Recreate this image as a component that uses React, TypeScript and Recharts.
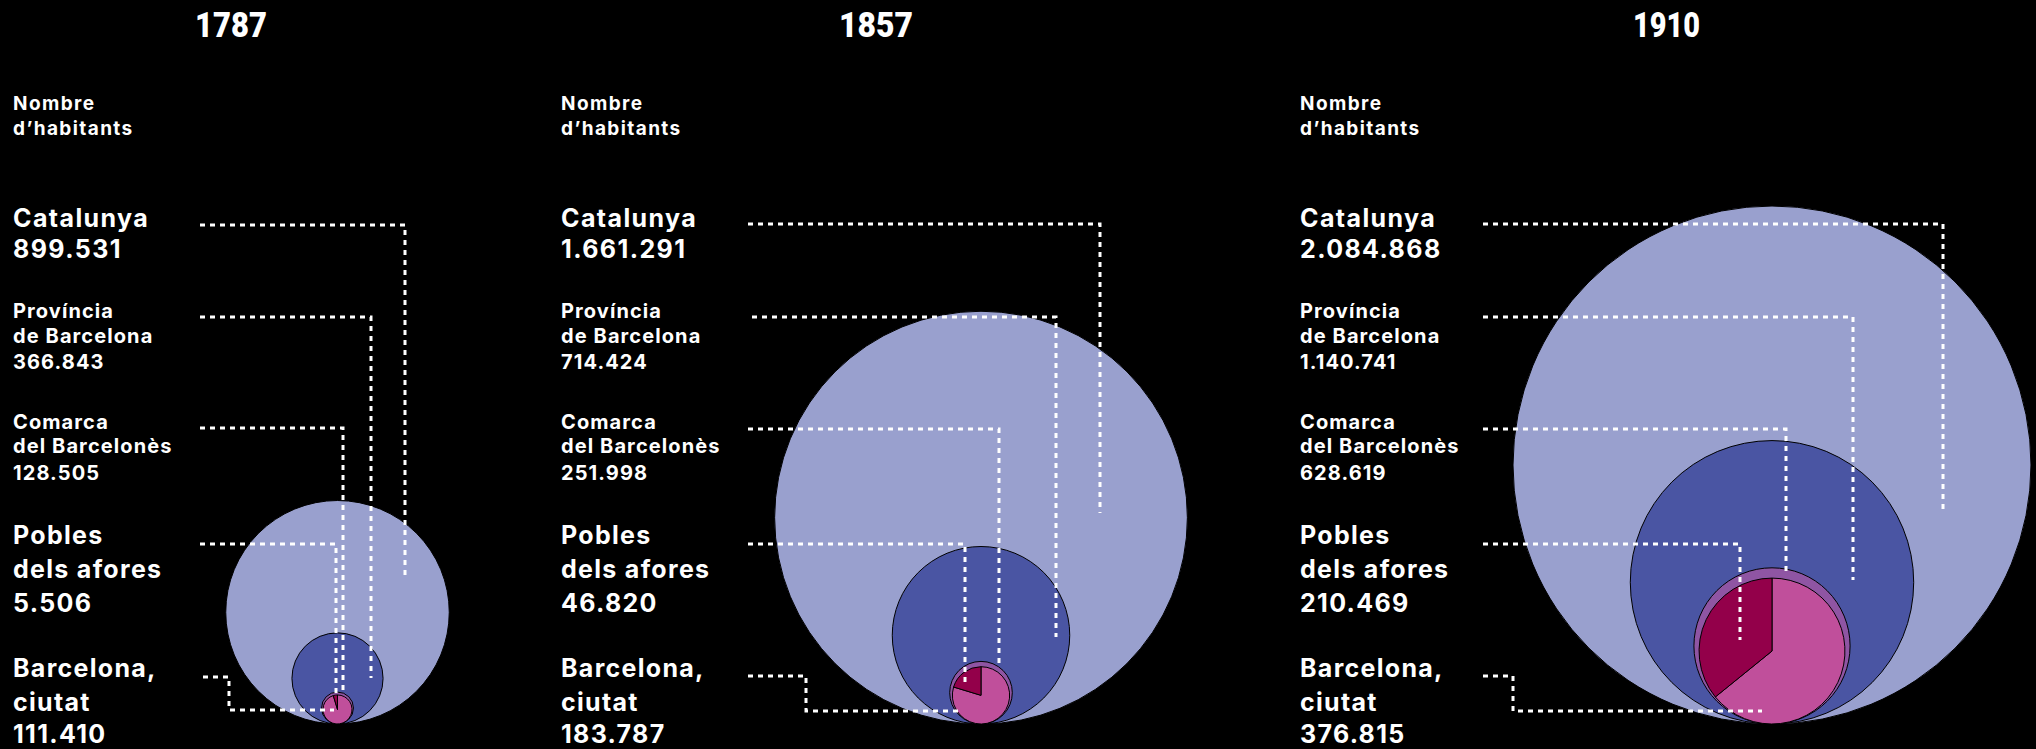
import React from 'react';
import { ScatterChart, Scatter, XAxis, YAxis, Sector } from 'recharts';

// ---------- DATA ----------
const years = ['1787', '1857', '1910'];
const catalunya = [899531, 1661291, 2084868];
const provincia = [366843, 714424, 1140741];
const comarca = [128505, 251998, 628619];
const pobles = [5506, 46820, 210469];
const barcelona = [111410, 183787, 376815];
const headerLines = ['Nombre', "d\u2019habitants"];
const levelLabels = [
  ['Catalunya'],
  ['Prov\u00edncia', 'de Barcelona'],
  ['Comarca', 'del Barcelon\u00e8s'],
  ['Pobles', 'dels afores'],
  ['Barcelona,', 'ciutat'],
];

// ---------- LAYOUT ----------
const W = 2036;
const H = 749;
const PLOT_BOTTOM = 724;
const PEOPLE_PER_PX = 8050;
const Y_MAX = PLOT_BOTTOM * PEOPLE_PER_PX;
const panelCenterX = [337.5, 981, 1772];
const panelTextX = [13, 561, 1300];
const titleLeft = [195, 839, 1633];
const titleWidth = [72, 74, 67];
const LABEL_LAYOUT = [
  { size: 25, spacing: 1.4, baselines: [227, 258] },
  { size: 20, spacing: 1.1, baselines: [318, 343, 369] },
  { size: 20, spacing: 1.1, baselines: [429, 453, 480] },
  { size: 25, spacing: 1.3, baselines: [544, 578, 612] },
  { size: 25, spacing: 1.3, baselines: [677, 711, 743] },
];
const LEADERS: number[][][][] = [
  [
    [[200, 225], [405, 225], [405, 580]],
    [[200, 317], [371, 317], [371, 678]],
    [[200, 428], [343, 428], [343, 693]],
    [[200, 544], [336, 544], [336, 697]],
    [[203, 677], [229, 677], [229, 710], [334, 710]],
  ],
  [
    [[748, 224], [1100, 224], [1100, 513]],
    [[752, 317], [1056, 317], [1056, 637]],
    [[748, 429], [999, 429], [999, 668]],
    [[748, 544], [965, 544], [965, 683]],
    [[748, 676], [806, 676], [806, 711], [962, 711]],
  ],
  [
    [[1483, 224], [1943, 224], [1943, 513]],
    [[1483, 317], [1853, 317], [1853, 580]],
    [[1483, 429], [1786, 429], [1786, 572]],
    [[1483, 544], [1740, 544], [1740, 640]],
    [[1483, 676], [1513, 676], [1513, 711], [1762, 711]],
  ],
];

const COLORS: Record<string, string> = {
  cat: '#99A0CE',
  prov: '#4A55A3',
  com: '#8F55A3',
};
const PINK = '#C04F9B';
const DARK = '#93004A';
const FONT = "Inter, 'Open Sans', sans-serif";

const fmt = (n: number) => String(n).replace(/\B(?=(\d{3})+(?!\d))/g, '.');

// circles: centre y (in people) = value, so each circle is tangent to the baseline
const points: any[] = [];
const kinds: [string, number[]][] = [
  ['cat', catalunya],
  ['prov', provincia],
  ['com', comarca],
];
kinds.forEach(([kind, arr]) => {
  arr.forEach((v, i) => points.push({ x: panelCenterX[i], y: v, kind }));
});
years.forEach((_, i) =>
  points.push({
    x: panelCenterX[i],
    y: barcelona[i] + pobles[i],
    kind: 'pie',
    bcn: barcelona[i],
    pob: pobles[i],
  })
);

const CircleShape = (props: any) => {
  const { cx, cy, payload } = props;
  const r = PLOT_BOTTOM - cy;
  if (payload.kind === 'pie') {
    const a = (360 * payload.pob) / (payload.pob + payload.bcn);
    return (
      <g>
        <Sector cx={cx} cy={cy} innerRadius={0} outerRadius={r} startAngle={90 + a} endAngle={450} fill={PINK} stroke="#000" strokeWidth={1} />
        <Sector cx={cx} cy={cy} innerRadius={0} outerRadius={r} startAngle={90} endAngle={90 + a} fill={DARK} stroke="#000" strokeWidth={1} />
      </g>
    );
  }
  return <circle cx={cx} cy={cy} r={r} fill={COLORS[payload.kind]} stroke="#000" strokeWidth={1} />;
};

export default function App() {
  const valuesByLevel = [catalunya, provincia, comarca, pobles, barcelona];
  return (
    <div style={{ position: 'relative', width: W, height: H, background: '#000' }}>
      <style>{`body{margin:0;background:#000;}`}</style>
      <ScatterChart width={W} height={H} margin={{ top: 0, right: 0, bottom: H - PLOT_BOTTOM, left: 0 }}>
        <XAxis type="number" dataKey="x" domain={[0, W]} allowDataOverflow hide />
        <YAxis type="number" dataKey="y" domain={[0, Y_MAX]} allowDataOverflow hide />
        <Scatter data={points} shape={CircleShape} isAnimationActive={false} />
      </ScatterChart>
      <svg width={W} height={H} style={{ position: 'absolute', left: 0, top: 0, pointerEvents: 'none' }}>
        {years.map((yr, p) => (
          <g key={yr}>
            <text
              x={titleLeft[p]}
              y={37}
              fontFamily="Roboto, sans-serif"
              fontWeight={900}
              fontSize={35}
              fill="#fff"
              textLength={titleWidth[p]}
              lengthAdjust="spacingAndGlyphs"
            >
              {yr}
            </text>
            {headerLines.map((t, j) => (
              <text key={j} x={panelTextX[p]} y={110 + j * 25} fontFamily={FONT} fontWeight={700} fontSize={19} fill="#fff" letterSpacing={1.4}>
                {t}
              </text>
            ))}
            {levelLabels.map((lines, l) => {
              const lay = LABEL_LAYOUT[l];
              const all = [...lines, fmt(valuesByLevel[l][p])];
              return all.map((t, j) => (
                <text
                  key={`${l}-${j}`}
                  x={panelTextX[p]}
                  y={lay.baselines[j]}
                  fontFamily={FONT}
                  fontWeight={700}
                  fontSize={lay.size}
                  fill="#fff"
                  letterSpacing={lay.spacing}
                >
                  {t}
                </text>
              ));
            })}
            {LEADERS[p].map((pts, l) => (
              <polyline
                key={l}
                points={pts.map((q) => q.join(',')).join(' ')}
                fill="none"
                stroke="#fff"
                strokeWidth={3}
                strokeDasharray="5 5"
              />
            ))}
          </g>
        ))}
      </svg>
    </div>
  );
}
